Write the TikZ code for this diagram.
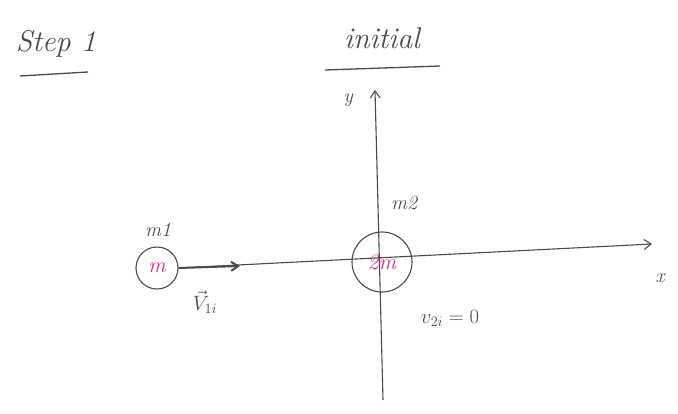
\documentclass[tikz,border=0pt]{standalone}
\usetikzlibrary{arrows.meta}
\definecolor{pencil}{HTML}{4A4A4A}
\definecolor{pinkm}{HTML}{E0228C}
\begin{document}
\begin{tikzpicture}[x=1pt,y=-1pt,
  line width=1.1pt,
  hand/.style={text=pencil,font=\fontsize{20}{24}\selectfont\itshape},
  big/.style={text=pencil,font=\fontsize{30}{36}\selectfont\itshape},
  axisline/.style={draw=pencil,-{Straight Barb[length=7pt,width=10pt]}},
  ball/.style={draw=pencil,circle,inner sep=0pt,text=pinkm,font=\fontsize{22}{26}\selectfont\itshape},
  ul/.style={draw=pencil,line width=1.3pt}]
\useasboundingbox (0,0) rectangle (678,413);
% titles
\node[big] (step) at (56,44) {Step 1};
\coordinate (s1) at (20,76); \coordinate (s2) at (88,72);
\draw[ul] (s1) -- (s2);
\node[big] (init) at (382,38) {initial};
\coordinate (i1) at (325,70); \coordinate (i2) at (440,66);
\draw[ul] (i1) -- (i2);
% masses
\node[ball,minimum size=42pt] (m1) at (157,268) {m};
\node[ball,minimum size=60pt] (m2) at (382,262) {2m};
% axes
\coordinate (yb) at (383,400); \coordinate (yt) at (375,90);
\draw[axisline] (yb) -- (yt);
\node[hand] (ylab) at (348,100) {y};
\coordinate (xr) at (652,244);
\draw[axisline] (m1.east) -- (xr);
\node[hand] (xlab) at (660,278) {x};
% velocity arrow
\coordinate (va) at (240,266);
\draw[draw=pencil,line width=2pt,-{Straight Barb[length=7pt,width=9pt]}] (m1.east) -- (va);
% labels
\node[hand] (m1l) at (158,230) {m1};
\node[hand] (m2l) at (404,203) {m2};
\node[hand] (v1) at (205,302) {$\vec{V}_{1i}$};
\node[hand] (v2) at (450,318) {$v_{2i}=0$};
\end{tikzpicture}
\end{document}
